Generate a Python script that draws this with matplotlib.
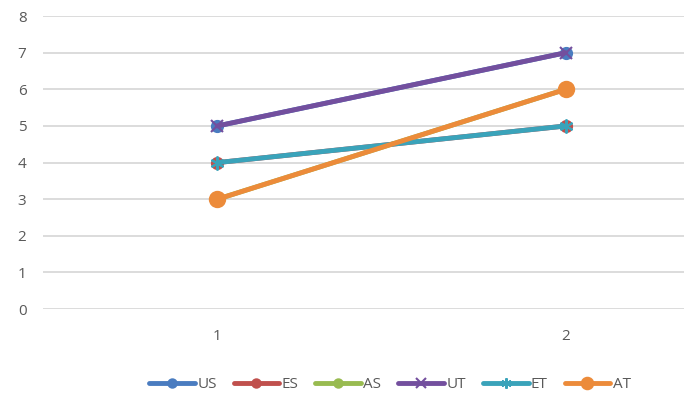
import matplotlib.pyplot as plt

# series, two categories each
categories = [1, 2]
names = ["US", "ES", "AS", "UT", "ET", "AT"]
US = [5, 7]
ES = [4, 5]
AS = [3, 6]
UT = [5, 7]
ET = [4, 5]
AT = [3, 6]
series = [US, ES, AS, UT, ET, AT]

colors = ["#4A7CC0", "#C0504D", "#98BB50", "#734F9E", "#3AA3BA", "#EC8B3A"]
markers = ["o", "o", "o", "x", (6, 2, 0), "o"]
msizes = [8, 8, 8, 9, 10, 11]

plt.rcParams['font.family'] = ['Open Sans', 'DejaVu Sans']

fig = plt.figure(figsize=(6.84, 4.03), dpi=100)
ax = fig.add_axes([0.063, 0.233, 0.937, 0.727])

for vals, name, c, m, ms in zip(series, names, colors, markers, msizes):
    ax.plot(categories, vals, color=c, lw=3.5, marker=m, markersize=ms,
            markeredgewidth=1.5, markeredgecolor=c, label=name,
            solid_capstyle='round')

ax.set_xlim(0.5, 2.34)
ax.set_ylim(0, 8)
ax.set_xticks(categories)
ax.set_yticks(range(0, 9))
ax.yaxis.grid(True, color="#D9D9D9", lw=1.3)
ax.set_axisbelow(True)
for s in ax.spines.values():
    s.set_visible(False)
ax.tick_params(length=0, labelsize=11, labelcolor="#595959", pad=12)
ax.tick_params(axis='x', pad=14)

leg = fig.legend(loc='center', bbox_to_anchor=(0.57, 0.045), ncol=6,
                 frameon=False, fontsize=11, handlelength=3.0,
                 columnspacing=1.1, handletextpad=0.15, markerscale=0.75)
for t in leg.get_texts():
    t.set_color("#595959")

fig.savefig("out.png", dpi=100)
